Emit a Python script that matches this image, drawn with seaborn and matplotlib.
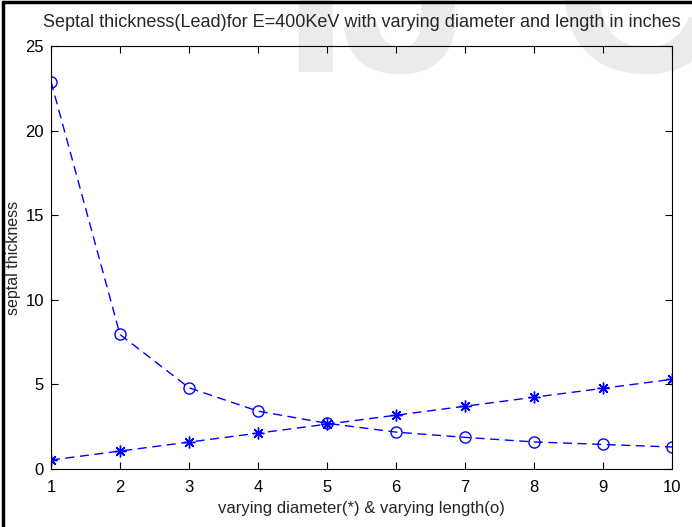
import pandas as pd
import matplotlib
matplotlib.use('Agg')
import matplotlib.pyplot as plt
from matplotlib.lines import Line2D
import seaborn as sns

# values
x_vals = [1, 2, 3, 4, 5, 6, 7, 8, 9, 10]
diameter_vals = [0.53, 1.06, 1.59, 2.12, 2.65, 3.18, 3.71, 4.24, 4.77, 5.30]
length_vals = [22.9, 7.95, 4.8, 3.42, 2.7, 2.18, 1.87, 1.6, 1.45, 1.3]
y_ticks = [0, 5, 10, 15, 20, 25]

df = pd.DataFrame({'x': x_vals, 'diameter': diameter_vals, 'length': length_vals})

sns.set_style('ticks')
plt.rcParams['font.family'] = ['Liberation Sans', 'DejaVu Sans']

fig = plt.figure(figsize=(6.92, 5.27), dpi=100)
fig.patch.set_facecolor('white')
ax = fig.add_axes([51 / 692, 1 - 469 / 527, 621 / 692, 423 / 527])
ax.set_facecolor('none')

# faint watermark behind everything
for letter, xp in [('I', 315), ('J', 405), ('C', 640)]:
    fig.text(xp / 692, 1 - 72 / 527, letter, fontsize=170, fontweight='bold',
             color='#ebebeb', ha='center', va='baseline', zorder=-5)

# outer frame edges (left & top)
fig.add_artist(Line2D([3 / 692, 3 / 692], [0, 1 - 2 / 527], color='black', lw=2.5,
                      transform=fig.transFigure))
fig.add_artist(Line2D([3 / 692, 1], [1 - 2 / 527, 1 - 2 / 527], color='black', lw=2.5,
                      transform=fig.transFigure))

sns.lineplot(data=df, x='x', y='diameter', ax=ax, color='blue',
             marker=(8, 2, 0), markersize=8.5, markeredgewidth=1.0,
             markeredgecolor='blue', linewidth=1.0)
sns.lineplot(data=df, x='x', y='length', ax=ax, color='blue',
             marker='o', markersize=8, markerfacecolor='none', markeredgecolor='blue',
             markeredgewidth=1.0, linewidth=1.0)
for ln in ax.lines:
    ln.set_linestyle((0, (6.5, 4)))

ax.set_xlim(1, 10)
ax.set_ylim(0, 25)
ax.set_xticks(x_vals)
ax.set_yticks(y_ticks)
ax.tick_params(direction='in', length=5, width=0.8, top=True, right=True,
               labelsize=12, colors='black')
ax.tick_params(axis='x', pad=8)
ax.tick_params(axis='y', pad=5)
for s in ax.spines.values():
    s.set_visible(True)
    s.set_linewidth(0.8)
    s.set_color('black')

ax.set_title('Septal thickness(Lead)for E=400KeV with varying diameter and length in inches',
             fontsize=13, pad=14)
ax.set_xlabel('varying diameter(*) & varying length(o)', fontsize=12, labelpad=4)
ax.set_ylabel('septal thickness', fontsize=11.5, labelpad=3)

fig.savefig('out.png', dpi=100)
